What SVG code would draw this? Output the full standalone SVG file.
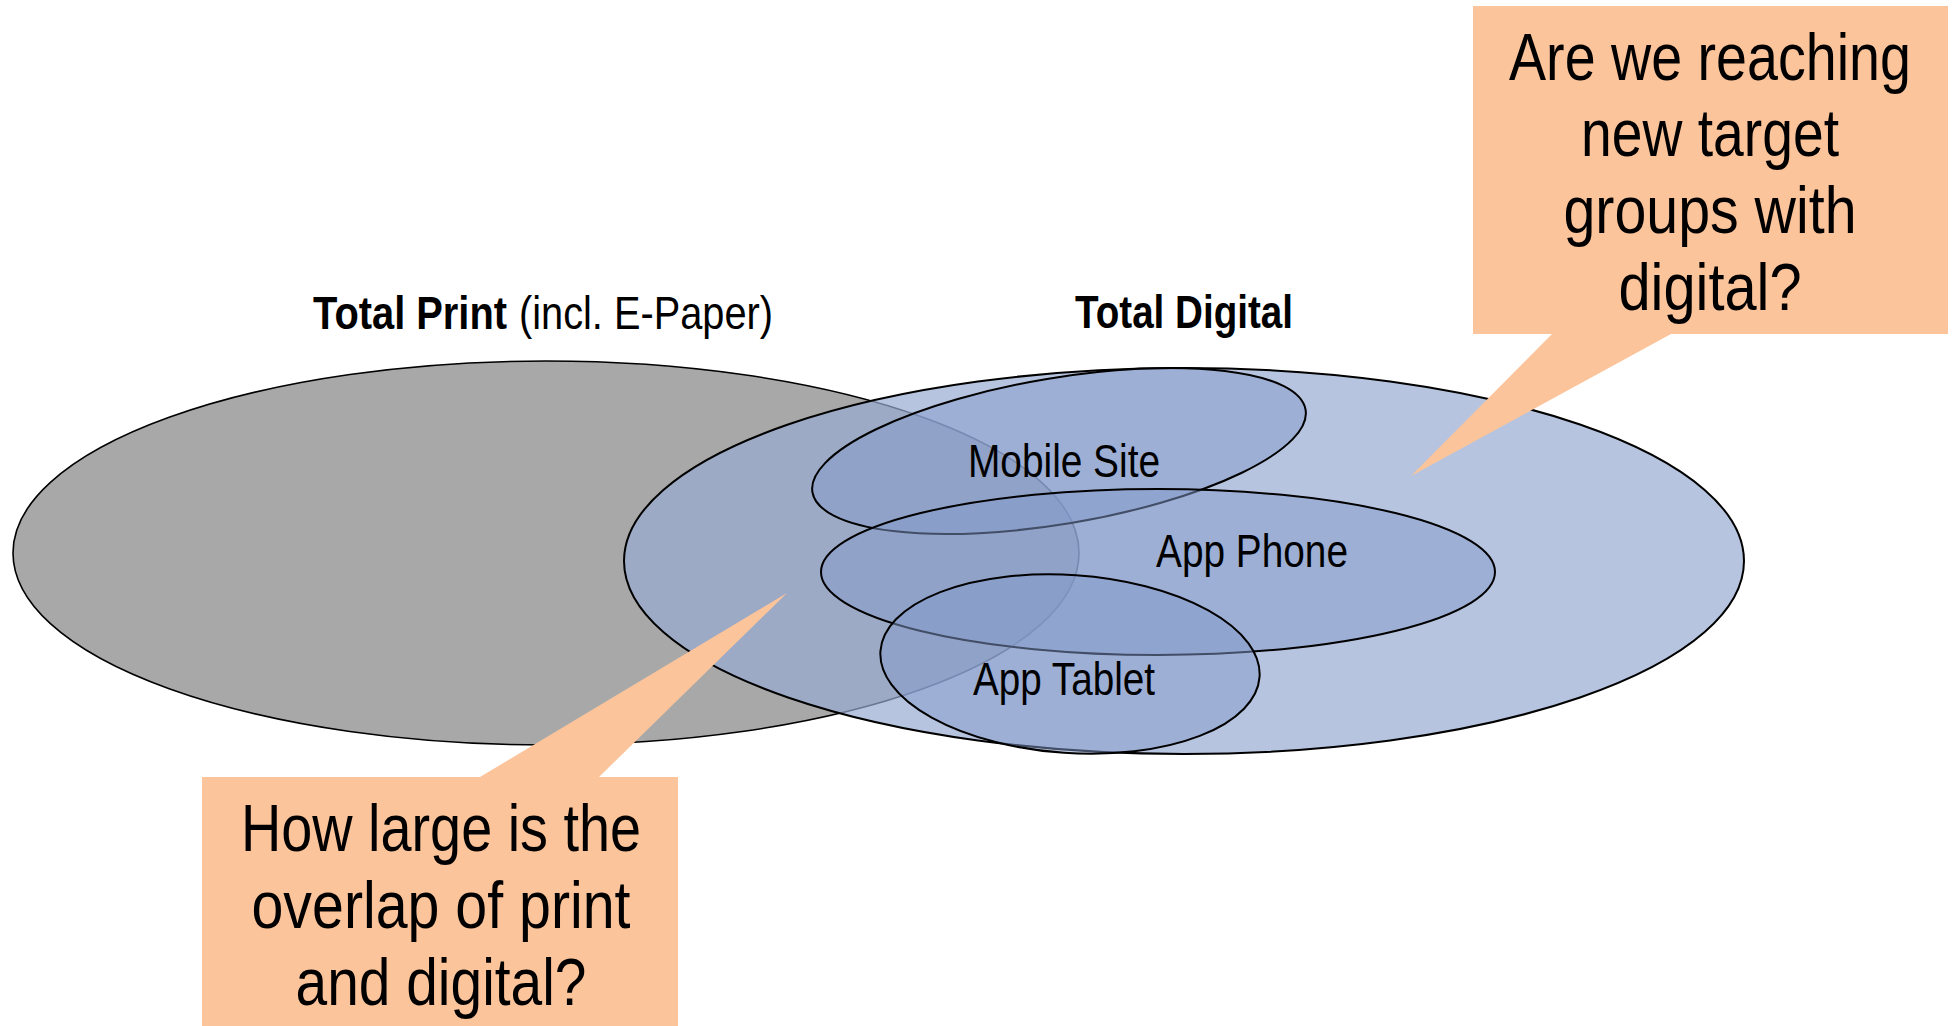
<svg xmlns="http://www.w3.org/2000/svg" width="1954" height="1026" viewBox="0 0 1954 1026">
  <style>
    .t { font-family: "Liberation Sans Narrow", "Arial Narrow", "Liberation Sans", Arial, sans-serif; fill: #000; }
    .head { font-size: 46px; }
    .lbl { font-size: 47px; text-anchor: middle; }
    .ask { font-size: 67px; text-anchor: middle; }
    .b { font-weight: bold; }
    .print { fill: #A8A8A8; stroke: #000; stroke-width: 1.6; }
    .digital { fill: #97ABD2; fill-opacity: 0.7; stroke: #000; stroke-width: 2; }
    .channel { fill: #839ACB; fill-opacity: 0.5; stroke: #000; stroke-width: 2; }
    .callout { fill: #FCC49A; }
  </style>

  <!-- audience sets -->
  <g id="total-print">
    <ellipse class="print" cx="546" cy="553" rx="533" ry="192"/>
  </g>
  <g id="total-digital">
    <ellipse class="digital" cx="1184" cy="561" rx="560" ry="193"/>
  </g>
  <g id="mobile-site">
    <ellipse class="channel" cx="0" cy="0" rx="250" ry="73" transform="translate(1059 451) rotate(-9.5)"/>
  </g>
  <g id="app-phone">
    <ellipse class="channel" cx="1158" cy="572" rx="337" ry="83"/>
  </g>
  <g id="app-tablet">
    <ellipse class="channel" cx="0" cy="0" rx="190" ry="89" transform="translate(1070 664) rotate(3.9)"/>
  </g>

  <!-- set labels -->
  <g id="labels">
    <text class="t head b" x="313" y="329" textLength="194" lengthAdjust="spacingAndGlyphs">Total Print</text>
    <text class="t head" x="519" y="329" textLength="254" lengthAdjust="spacingAndGlyphs">(incl. E-Paper)</text>
    <text class="t head b" x="1184" y="328" text-anchor="middle" textLength="218" lengthAdjust="spacingAndGlyphs">Total Digital</text>
    <text class="t lbl" x="1064" y="477" textLength="192" lengthAdjust="spacingAndGlyphs">Mobile Site</text>
    <text class="t lbl" x="1252" y="567" textLength="192" lengthAdjust="spacingAndGlyphs">App Phone</text>
    <text class="t lbl" x="1064" y="695" textLength="182" lengthAdjust="spacingAndGlyphs">App Tablet</text>
  </g>

  <!-- question callouts -->
  <g id="callout-new-groups">
    <polygon class="callout" points="1473,6 1948,6 1948,334 1671,334 1411,476 1552,334 1473,334"/>
    <text class="t ask" x="1710" y="80" textLength="402" lengthAdjust="spacingAndGlyphs">Are we reaching</text>
    <text class="t ask" x="1710" y="156" textLength="258" lengthAdjust="spacingAndGlyphs">new target</text>
    <text class="t ask" x="1710" y="233" textLength="293" lengthAdjust="spacingAndGlyphs">groups with</text>
    <text class="t ask" x="1710" y="310" textLength="183" lengthAdjust="spacingAndGlyphs">digital?</text>
  </g>
  <g id="callout-overlap">
    <polygon class="callout" points="202,777 480,777 787,593 599,777 678,777 678,1030 202,1030"/>
    <text class="t ask" x="441" y="851" textLength="400" lengthAdjust="spacingAndGlyphs">How large is the</text>
    <text class="t ask" x="441" y="928" textLength="379" lengthAdjust="spacingAndGlyphs">overlap of print</text>
    <text class="t ask" x="441" y="1005" textLength="291" lengthAdjust="spacingAndGlyphs">and digital?</text>
  </g>
</svg>
